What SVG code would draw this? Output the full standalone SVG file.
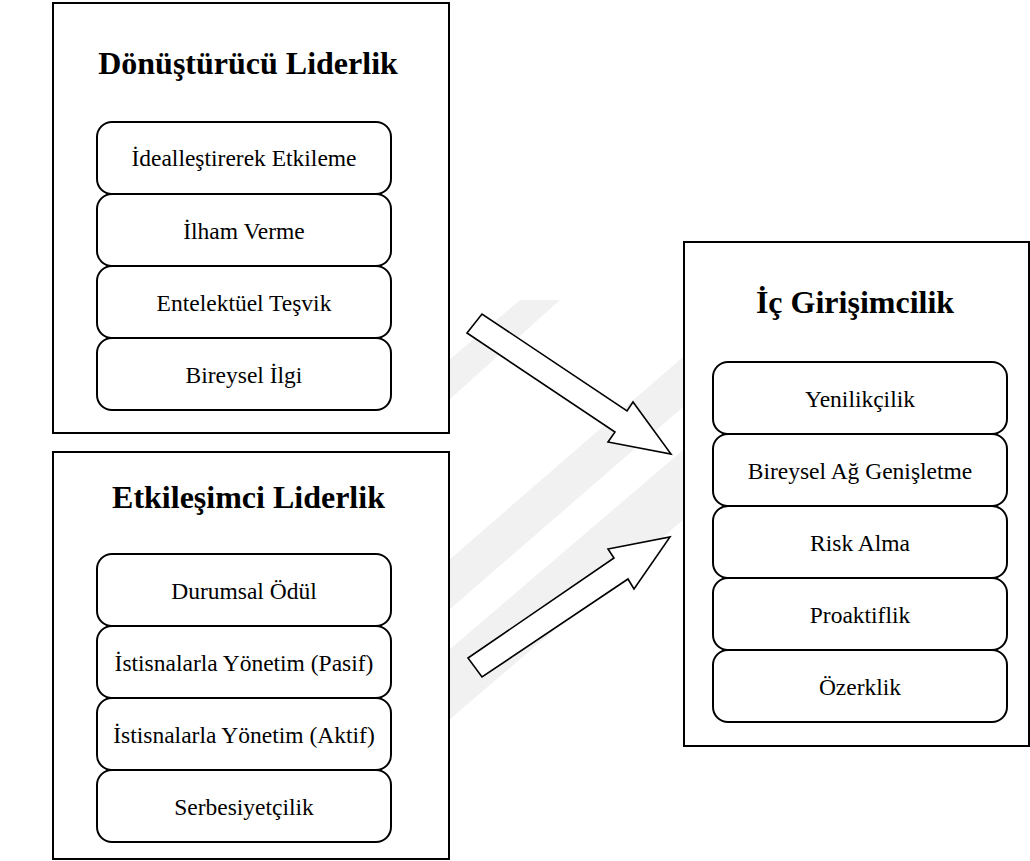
<svg xmlns="http://www.w3.org/2000/svg" width="1030" height="861" viewBox="0 0 1030 861">
<style>
.outer{fill:#fff;stroke:#000;stroke-width:2}
.row{fill:#fff;stroke:#000;stroke-width:2}
.title{font-family:"Liberation Serif","Times New Roman",serif;font-weight:bold;font-size:32px;text-anchor:middle;fill:#000}
.item{font-family:"Liberation Serif","Times New Roman",serif;font-size:23.5px;text-anchor:middle;fill:#000}
.arrow{fill:#fff;stroke:#000;stroke-width:1.6;stroke-linejoin:miter}
.wm{fill:#f1f1f1}
</style>
<rect width="1030" height="861" fill="#fff"/>
<g id="watermark">
<polygon class="wm" points="449,560 449,610 683,407 683,357"/>
<polygon class="wm" points="449,650 449,720 683,520 683,450"/>
<polygon class="wm" points="449,360 449,400 560,300 520,300"/>
</g>
<g id="node-transformational">
<rect class="outer" x="53" y="3" width="396" height="430"/>
<text class="title" x="248" y="74">Dönüştürücü Liderlik</text>
<rect class="row" x="97" y="122" width="294" height="72" rx="15"/>
<text class="item" x="244" y="166">İdealleştirerek Etkileme</text>
<rect class="row" x="97" y="194" width="294" height="72" rx="15"/>
<text class="item" x="244" y="238.5">İlham Verme</text>
<rect class="row" x="97" y="266" width="294" height="72" rx="15"/>
<text class="item" x="244" y="310.5">Entelektüel Teşvik</text>
<rect class="row" x="97" y="338" width="294" height="72" rx="15"/>
<text class="item" x="244" y="382.5">Bireysel İlgi</text>
</g>
<g id="node-transactional">
<rect class="outer" x="53" y="452" width="396" height="407"/>
<text class="title" x="248.5" y="508">Etkileşimci Liderlik</text>
<rect class="row" x="97" y="554" width="294" height="72" rx="15"/>
<text class="item" x="244" y="599">Durumsal Ödül</text>
<rect class="row" x="97" y="626" width="294" height="72" rx="15"/>
<text class="item" x="244" y="671">İstisnalarla Yönetim (Pasif)</text>
<rect class="row" x="97" y="698" width="294" height="72" rx="15"/>
<text class="item" x="244" y="743">İstisnalarla Yönetim (Aktif)</text>
<rect class="row" x="97" y="770" width="294" height="72" rx="15"/>
<text class="item" x="244" y="815">Serbesiyetçilik</text>
</g>
<g id="node-intrapreneurship">
<rect class="outer" x="684" y="242" width="345" height="504"/>
<text class="title" x="855" y="313">İç Girişimcilik</text>
<rect class="row" x="713" y="362" width="294" height="72" rx="15"/>
<text class="item" x="860" y="407">Yenilikçilik</text>
<rect class="row" x="713" y="434" width="294" height="72" rx="15"/>
<text class="item" x="860" y="479">Bireysel Ağ Genişletme</text>
<rect class="row" x="713" y="506" width="294" height="72" rx="15"/>
<text class="item" x="860" y="551">Risk Alma</text>
<rect class="row" x="713" y="578" width="294" height="72" rx="15"/>
<text class="item" x="860" y="623">Proaktiflik</text>
<rect class="row" x="713" y="650" width="294" height="72" rx="15"/>
<text class="item" x="860" y="695">Özerklik</text>
</g>
<g id="connectors">
<polygon class="arrow" points="467,333 482,314 627,411 633,402 671,454 608,442 615,432"/>
<polygon class="arrow" points="468,658 614,558 608,549 670,537 634,589 628,579 482,677"/>
</g>
</svg>
